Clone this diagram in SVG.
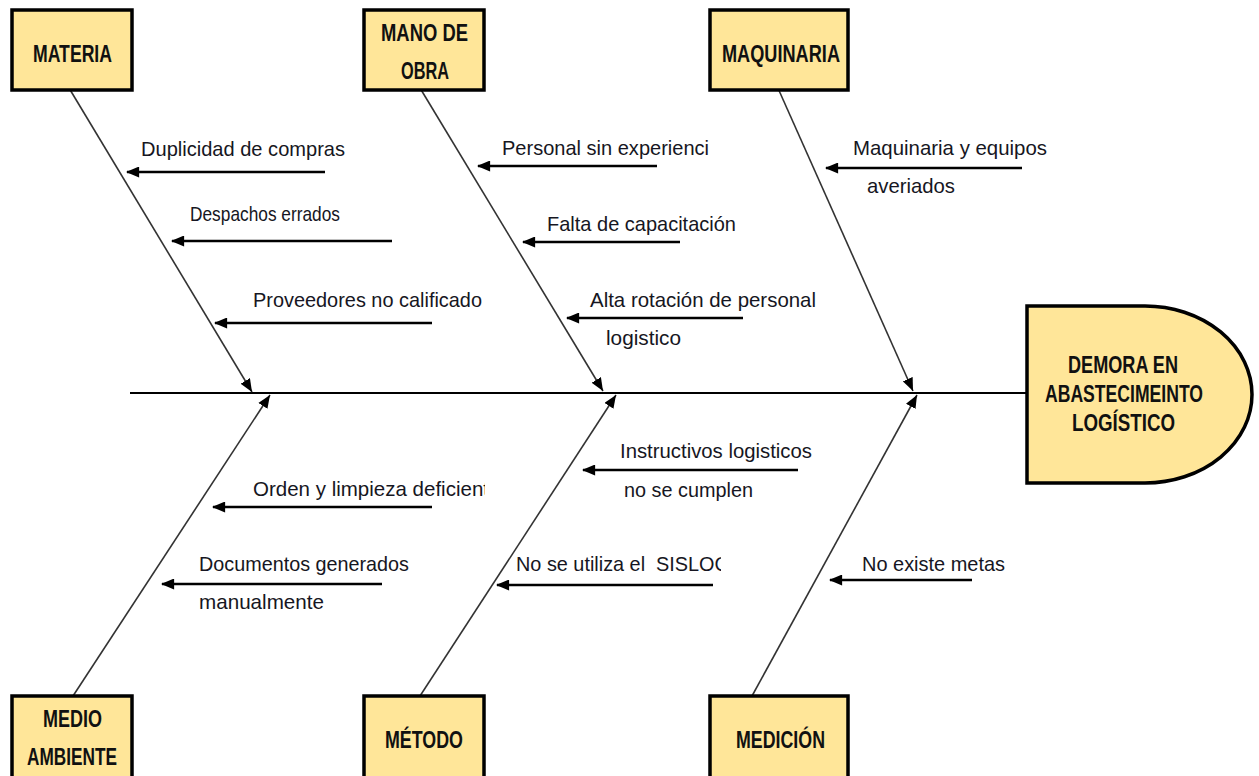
<svg xmlns="http://www.w3.org/2000/svg" width="1259" height="776" viewBox="0 0 1259 776">
  <style>
    .box { fill: #FFE699; stroke: #000; stroke-width: 3.5; }
    .hd { font-family: "Liberation Sans", Arial, sans-serif; font-weight: bold; font-size: 23px; fill: #111; }
    .lb { font-family: "Liberation Sans", Arial, sans-serif; font-size: 21px; fill: #161622; }
    .bone { stroke: #333; stroke-width: 1.6; fill: none; }
    .cause { stroke: #000; stroke-width: 2.4; fill: none; }
    .spine { stroke: #000; stroke-width: 2; fill: none; }
  </style>
  <defs>
    <marker id="ah" viewBox="0 0 12 10" refX="12" refY="5" markerWidth="13" markerHeight="11" markerUnits="userSpaceOnUse" orient="auto">
      <path d="M0,0 L12,5 L0,10 Z" fill="#000"/>
    </marker>
    <marker id="ahs" viewBox="0 0 12 10" refX="11" refY="5" markerWidth="14" markerHeight="11" markerUnits="userSpaceOnUse" orient="auto">
      <path d="M0,0 L12,5 L0,10 Z" fill="#000"/>
    </marker>
    <clipPath id="clipOrden"><rect x="240" y="470" width="245" height="40"/></clipPath>
    <clipPath id="clipSislog"><rect x="500" y="550" width="221" height="30"/></clipPath>
  </defs>

  <!-- bones and cause arrows -->
  <g id="connectors">
    <line class="spine" x1="130" y1="393" x2="1027" y2="393"/>

    <line class="bone" x1="69" y1="88" x2="252" y2="392" marker-end="url(#ah)"/>
    <line class="bone" x1="420" y1="88" x2="603" y2="391" marker-end="url(#ah)"/>
    <line class="bone" x1="777" y1="86" x2="913" y2="391" marker-end="url(#ah)"/>
    <line class="bone" x1="73" y1="696" x2="270" y2="395" marker-end="url(#ah)"/>
    <line class="bone" x1="420" y1="696" x2="616" y2="395" marker-end="url(#ah)"/>
    <line class="bone" x1="752" y1="696" x2="917" y2="395" marker-end="url(#ah)"/>

    <line class="cause" x1="325" y1="172" x2="127" y2="172" marker-end="url(#ahs)"/>
    <line class="cause" x1="392" y1="241" x2="172" y2="241" marker-end="url(#ahs)"/>
    <line class="cause" x1="432" y1="323" x2="215" y2="323" marker-end="url(#ahs)"/>
    <line class="cause" x1="657" y1="166" x2="478" y2="166" marker-end="url(#ahs)"/>
    <line class="cause" x1="680" y1="242" x2="523" y2="242" marker-end="url(#ahs)"/>
    <line class="cause" x1="743" y1="318" x2="567" y2="318" marker-end="url(#ahs)"/>
    <line class="cause" x1="1022" y1="168" x2="826" y2="168" marker-end="url(#ahs)"/>
    <line class="cause" x1="798" y1="470" x2="583" y2="470" marker-end="url(#ahs)"/>
    <line class="cause" x1="432" y1="507" x2="213" y2="507" marker-end="url(#ahs)"/>
    <line class="cause" x1="382" y1="584" x2="162" y2="584" marker-end="url(#ahs)"/>
    <line class="cause" x1="713" y1="585" x2="497" y2="585" marker-end="url(#ahs)"/>
    <line class="cause" x1="972" y1="580" x2="830" y2="580" marker-end="url(#ahs)"/>
  </g>

  <!-- cause labels -->
  <g id="labels">
    <text class="lb" x="141" y="156" textLength="204" lengthAdjust="spacingAndGlyphs">Duplicidad de compras</text>
    <text class="lb" x="190" y="221" textLength="150" lengthAdjust="spacingAndGlyphs">Despachos errados</text>
    <text class="lb" x="253" y="307" textLength="229" lengthAdjust="spacingAndGlyphs">Proveedores no calificado</text>
    <text class="lb" x="502" y="155" textLength="207" lengthAdjust="spacingAndGlyphs">Personal sin experienci</text>
    <text class="lb" x="547" y="231" textLength="189" lengthAdjust="spacingAndGlyphs">Falta de capacitación</text>
    <text class="lb" x="590" y="307" textLength="226" lengthAdjust="spacingAndGlyphs">Alta rotación de personal</text>
    <text class="lb" x="606" y="345" textLength="75" lengthAdjust="spacingAndGlyphs">logistico</text>
    <text class="lb" x="853" y="155" textLength="194" lengthAdjust="spacingAndGlyphs">Maquinaria y equipos</text>
    <text class="lb" x="867" y="193" textLength="88" lengthAdjust="spacingAndGlyphs">averiados</text>
    <text class="lb" x="620" y="458" textLength="192" lengthAdjust="spacingAndGlyphs">Instructivos logisticos</text>
    <text class="lb" x="624" y="497" textLength="129" lengthAdjust="spacingAndGlyphs">no se cumplen</text>
    <g clip-path="url(#clipOrden)">
      <text class="lb" x="253" y="496" textLength="236" lengthAdjust="spacingAndGlyphs">Orden y limpieza deficient</text>
    </g>
    <text class="lb" x="199" y="571" textLength="210" lengthAdjust="spacingAndGlyphs">Documentos generados</text>
    <text class="lb" x="199" y="609" textLength="125" lengthAdjust="spacingAndGlyphs">manualmente</text>
    <g clip-path="url(#clipSislog)">
      <text class="lb" x="516" y="571" textLength="214" lengthAdjust="spacingAndGlyphs" xml:space="preserve">No se utiliza el  SISLOG</text>
    </g>
    <text class="lb" x="862" y="571" textLength="143" lengthAdjust="spacingAndGlyphs">No existe metas</text>
  </g>

  <!-- category boxes -->
  <g id="materia">
    <rect class="box" x="12" y="10" width="120" height="80"/>
    <text class="hd" x="33" y="62" textLength="79" lengthAdjust="spacingAndGlyphs">MATERIA</text>
  </g>
  <g id="mano-de-obra">
    <rect class="box" x="364" y="10" width="120" height="80"/>
    <text class="hd" x="381" y="41" textLength="87" lengthAdjust="spacingAndGlyphs">MANO DE</text>
    <text class="hd" x="401" y="79" textLength="48" lengthAdjust="spacingAndGlyphs">OBRA</text>
  </g>
  <g id="maquinaria">
    <rect class="box" x="710" y="10" width="138" height="80"/>
    <text class="hd" x="722" y="62" textLength="118" lengthAdjust="spacingAndGlyphs">MAQUINARIA</text>
  </g>
  <g id="medio-ambiente">
    <rect class="box" x="12" y="696" width="120" height="86"/>
    <text class="hd" x="43" y="727" textLength="59" lengthAdjust="spacingAndGlyphs">MEDIO</text>
    <text class="hd" x="27" y="765" textLength="90" lengthAdjust="spacingAndGlyphs">AMBIENTE</text>
  </g>
  <g id="metodo">
    <rect class="box" x="364" y="696" width="120" height="86"/>
    <text class="hd" x="385" y="748" textLength="78" lengthAdjust="spacingAndGlyphs">MÉTODO</text>
  </g>
  <g id="medicion">
    <rect class="box" x="710" y="696" width="138" height="86"/>
    <text class="hd" x="736" y="748" textLength="89" lengthAdjust="spacingAndGlyphs">MEDICIÓN</text>
  </g>

  <!-- effect head -->
  <g id="efecto">
    <path class="box" d="M1027,306 H1145 A107,88.5 0 0 1 1145,483 H1027 Z"/>
    <text class="hd" x="1068" y="373" textLength="110" lengthAdjust="spacingAndGlyphs">DEMORA EN</text>
    <text class="hd" x="1045" y="402" textLength="158" lengthAdjust="spacingAndGlyphs">ABASTECIMEINTO</text>
    <text class="hd" x="1072" y="431" textLength="103" lengthAdjust="spacingAndGlyphs">LOGÍSTICO</text>
  </g>
</svg>
